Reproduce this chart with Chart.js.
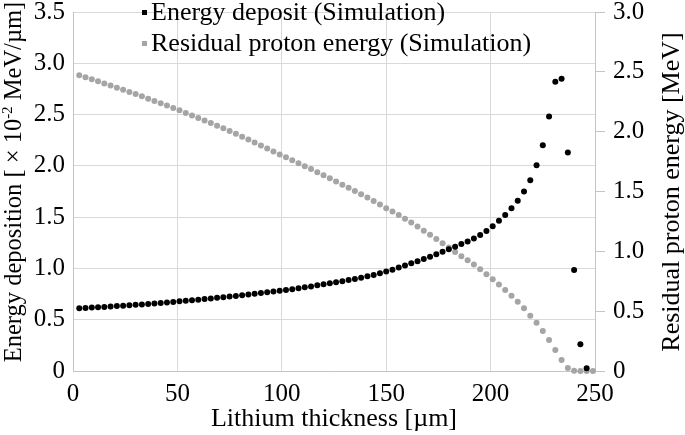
<!DOCTYPE html>
<html>
<head>
<meta charset="utf-8">
<script src="https://cdn.jsdelivr.net/npm/chart.js@4.4.0/dist/chart.umd.min.js"></script>
<style>
  body { margin: 0; background: #fff; }
  #wrap { width: 685px; height: 435px; }
</style>
</head>
<body>
<div id="wrap"><canvas id="chart" width="685" height="435"></canvas></div>
<script>
// Lithium thickness [µm] of each simulation step
const thickness = [
  3, 6, 9, 12, 15, 18, 21, 24, 27, 30,
  33, 36, 39, 42, 45, 48, 51, 54, 57, 60,
  63, 66, 69, 72, 75, 78, 81, 84, 87, 90,
  93, 96, 99, 102, 105, 108, 111, 114, 117, 120,
  123, 126, 129, 132, 135, 138, 141, 144, 147, 150,
  153, 156, 159, 162, 165, 168, 171, 174, 177, 180,
  183, 186, 189, 192, 195, 198, 201, 204, 207, 210,
  213, 216, 219, 222, 225, 228, 231, 234, 237, 240,
  243, 246, 249
];

// Energy deposit [x10^-2 MeV/µm] (left axis), one value per step up to 246 µm
const energyDeposit = [
  0.612, 0.615, 0.618, 0.622, 0.625, 0.629, 0.633, 0.637, 0.641, 0.645,
  0.649, 0.654, 0.658, 0.663, 0.668, 0.673, 0.679, 0.684, 0.690, 0.695,
  0.701, 0.707, 0.713, 0.719, 0.726, 0.732, 0.739, 0.746, 0.753, 0.760,
  0.767, 0.774, 0.782, 0.790, 0.798, 0.807, 0.816, 0.825, 0.835, 0.845,
  0.855, 0.865, 0.876, 0.887, 0.898, 0.910, 0.923, 0.937, 0.952, 0.970,
  0.988, 1.008, 1.029, 1.050, 1.071, 1.091, 1.114, 1.139, 1.163, 1.187,
  1.212, 1.238, 1.263, 1.292, 1.326, 1.366, 1.410, 1.465, 1.522, 1.586,
  1.660, 1.750, 1.860, 2.005, 2.200, 2.480, 2.820, 2.850, 2.130, 0.985,
  0.260, 0.026
];

// Residual proton energy [MeV] (right axis)
const residualEnergy = [
  2.472, 2.455, 2.438, 2.421, 2.403, 2.386, 2.368, 2.350, 2.332, 2.314,
  2.295, 2.276, 2.257, 2.238, 2.218, 2.198, 2.178, 2.157, 2.136, 2.115,
  2.094, 2.072, 2.050, 2.028, 2.005, 1.982, 1.958, 1.934, 1.910, 1.885,
  1.860, 1.834, 1.810, 1.786, 1.762, 1.737, 1.712, 1.687, 1.661, 1.636,
  1.610, 1.583, 1.557, 1.531, 1.505, 1.478, 1.450, 1.421, 1.391, 1.361,
  1.332, 1.303, 1.273, 1.241, 1.207, 1.173, 1.138, 1.104, 1.068, 1.031,
  0.995, 0.958, 0.925, 0.889, 0.850, 0.808, 0.766, 0.723, 0.677, 0.628,
  0.579, 0.524, 0.462, 0.404, 0.334, 0.259, 0.175, 0.092, 0.025, 0.003,
  0, 0, 0
];

// Tick labels
const xTicks = [0, 50, 100, 150, 200, 250];
const leftTicks = [0, 0.5, 1.0, 1.5, 2.0, 2.5, 3.0, 3.5];
const rightTicks = [0, 0.5, 1.0, 1.5, 2.0, 2.5, 3.0];

const legendLabels = ['Energy deposit (Simulation)', 'Residual proton energy (Simulation)'];
const seriesColors = ['#000000', '#a5a5a5'];

const fontFamily = '"Liberation Serif"';
const gridColor = '#d9d9d9';
const axisColor = '#c4c4c4';

Chart.defaults.font.family = fontFamily;
Chart.defaults.color = '#000';

const depositPoints = energyDeposit.map((v, i) => ({ x: thickness[i], y: v }));
const residualPoints = residualEnergy.map((v, i) => ({ x: thickness[i], y: v }));

function fmt(v) {
  return v === 0 ? '0' : v.toFixed(1);
}

function useTicks(list) {
  return scale => { scale.ticks = list.map(v => ({ value: v })); };
}

// Legend and rotated axis titles drawn on the canvas
const textPlugin = {
  id: 'texts',
  afterDraw(chart) {
    const ctx = chart.ctx;
    ctx.save();

    // legend
    ctx.font = '26px ' + fontFamily;
    ctx.textAlign = 'left';
    ctx.textBaseline = 'alphabetic';
    legendLabels.forEach((label, i) => {
      const base = 20 + i * 31;
      ctx.fillStyle = seriesColors[i];
      ctx.fillRect(142, base - 10, 5, 5);
      ctx.fillStyle = '#000';
      ctx.fillText(label, 151, base);
    });

    // left title with superscript
    const mainFont = '24.5px ' + fontFamily;
    const supFont = '15px ' + fontFamily;
    const parts = [
      { t: 'Energy deposition [ \u00d7 10', f: mainFont, dy: 0 },
      { t: '-2', f: supFont, dy: -9 },
      { t: ' MeV/\u00b5m]', f: mainFont, dy: 0 }
    ];
    let total = 0;
    parts.forEach(p => { ctx.font = p.f; p.w = ctx.measureText(p.t).width; total += p.w; });
    ctx.save();
    ctx.translate(21, 182);
    ctx.rotate(-Math.PI / 2);
    ctx.fillStyle = '#000';
    let x = -total / 2;
    parts.forEach(p => {
      ctx.font = p.f;
      ctx.fillText(p.t, x, p.dy);
      x += p.w;
    });
    ctx.restore();

    // right title
    ctx.save();
    ctx.translate(679, 192);
    ctx.rotate(-Math.PI / 2);
    ctx.font = '26px ' + fontFamily;
    ctx.textAlign = 'center';
    ctx.fillStyle = '#000';
    ctx.fillText('Residual proton energy [MeV]', 0, 0);
    ctx.restore();

    ctx.restore();
  }
};

const tickFont = { family: fontFamily, size: 25 };

new Chart(document.getElementById('chart'), {
  type: 'scatter',
  data: {
    datasets: [
      {
        label: legendLabels[0],
        data: depositPoints,
        yAxisID: 'y',
        backgroundColor: seriesColors[0],
        pointRadius: 3,
        pointHoverRadius: 3,
        pointBorderWidth: 0
      },
      {
        label: legendLabels[1],
        data: residualPoints,
        yAxisID: 'y2',
        backgroundColor: seriesColors[1],
        pointRadius: 3,
        pointHoverRadius: 3,
        pointBorderWidth: 0
      }
    ]
  },
  options: {
    responsive: false,
    animation: false,
    devicePixelRatio: 1,
    clip: false,
    layout: { padding: { top: 12, left: 0, right: 0, bottom: 0 } },
    plugins: {
      legend: { display: false },
      tooltip: { enabled: false }
    },
    scales: {
      x: {
        type: 'linear',
        min: 0,
        max: 250,
        afterBuildTicks: useTicks(xTicks),
        afterFit: s => { s.height = 64; s.paddingLeft = 0; s.paddingRight = 0; },
        grid: { color: gridColor, drawTicks: false },
        border: { color: axisColor },
        ticks: { color: '#000', font: tickFont, padding: 8, maxRotation: 0 },
        title: {
          display: true,
          text: 'Lithium thickness [\u00b5m]',
          color: '#000',
          font: { family: fontFamily, size: 26 },
          padding: { top: 0, bottom: 0 }
        }
      },
      y: {
        type: 'linear',
        position: 'left',
        min: 0,
        max: 3.5,
        afterBuildTicks: useTicks(leftTicks),
        afterFit: s => { s.width = 73; s.paddingTop = 0; s.paddingBottom = 0; },
        grid: { color: gridColor, drawTicks: false },
        border: { color: axisColor },
        ticks: { color: '#000', font: tickFont, padding: 8, callback: fmt }
      },
      y2: {
        type: 'linear',
        position: 'right',
        min: 0,
        max: 3,
        afterBuildTicks: useTicks(rightTicks),
        afterFit: s => { s.width = 90; s.paddingTop = 0; s.paddingBottom = 0; },
        grid: { drawOnChartArea: false, drawTicks: true, tickLength: 10, color: axisColor },
        border: { color: axisColor },
        ticks: { color: '#000', font: tickFont, padding: 8, callback: fmt }
      }
    }
  },
  plugins: [textPlugin]
});
</script>
</body>
</html>
